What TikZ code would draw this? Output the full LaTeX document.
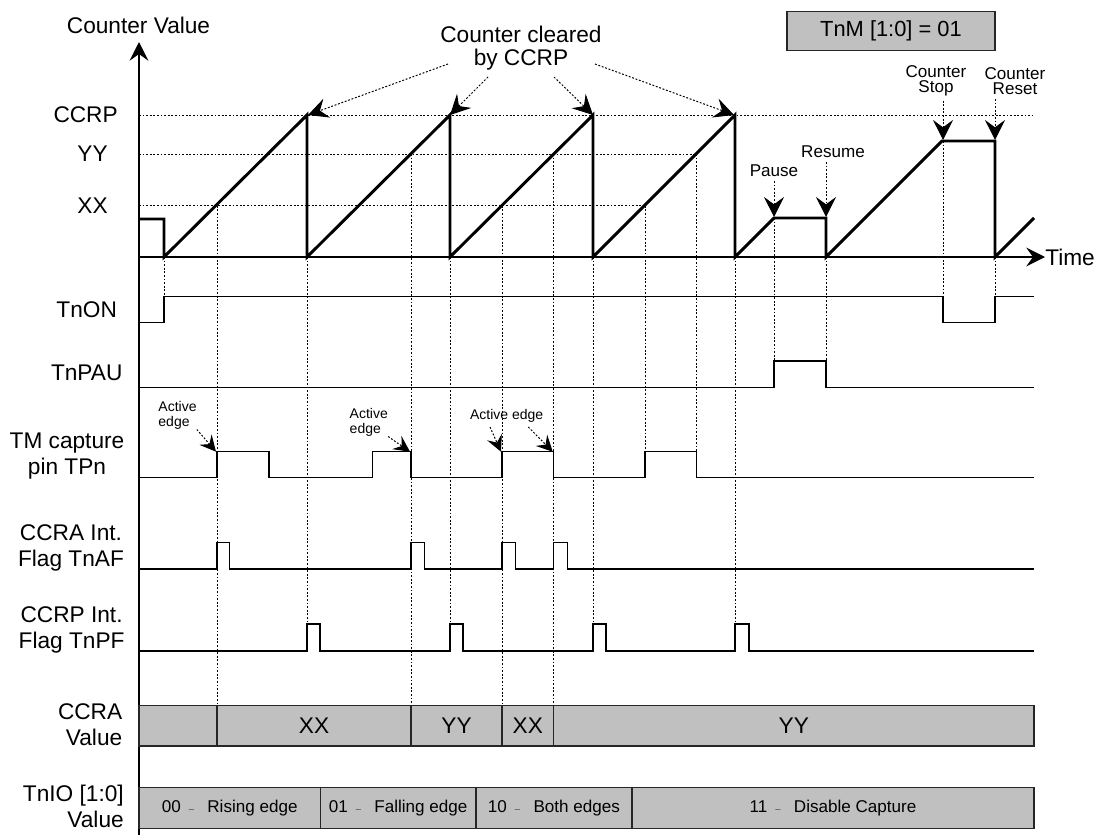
\documentclass[tikz,border=0pt]{standalone}
\usepackage{fontspec}
\setmainfont{Liberation Sans}
\usetikzlibrary{arrows.meta}

\definecolor{barfill}{RGB}{192,192,192}
\definecolor{bardraw}{RGB}{38,38,38}
\newcommand{\sepdash}{\hspace{6pt}{\color{darkgray}\scalebox{.55}{--}}\hspace{10pt}}

\begin{document}
\begin{tikzpicture}[x=.75pt,y=-.75pt,font=\fontsize{17}{19.5}\selectfont,
    trace/.style={line width=2.2pt,line join=miter},
    sig/.style={line width=1.1pt},
    axis/.style={line width=1.5pt,-{Stealth[length=14pt,width=14pt,inset=5pt]}},
    guide/.style={line width=.75pt,dash pattern=on 1.4pt off 1.3pt},
    note/.style={guide,-{Stealth[length=15pt,width=15pt,inset=5.5pt,sep=0pt]}},
    smallnote/.style={guide,-{Stealth[length=12pt,width=12pt,inset=4.5pt]}},
    lbl/.style={align=center,inner sep=0pt},
    small/.style={font=\fontsize{12.8}{11.5}\selectfont,align=center,inner sep=0pt},
    tiny/.style={font=\fontsize{10.5}{10.8}\selectfont,align=left,inner sep=0pt},
    bar/.style={fill=barfill,draw=bardraw,line width=1.1pt},
    bartext/.style={font=\fontsize{12.8}{14}\selectfont}]
  \useasboundingbox (0,0) rectangle (1099,835);

  % mode box
  \node[bar,minimum width=155.8pt,minimum height=29.2pt,
    font=\fontsize{16.4}{18}\selectfont] (mode) at (891,31.2) {TnM [1:0] = 01};

  % guide lines
  \draw[guide] (139,115) -- (1033,115);
  \draw[guide] (139,154) -- (697,154);
  \draw[guide] (139,205.7) -- (645,205.7);
  \foreach \x/\a/\b in {164/257/297, 217/205.7/705.6, 307/257/624,
      411/154/705.6, 450/257/624, 502/205.7/705.6, 553.7/154/705.6,
      593/257/624, 645/205.7/451.7, 696.7/154/451.7, 735/257/624,
      774/218/361, 826/257/361, 943/141/297, 995/257/297} {
    \draw[guide] (\x,\a) -- (\x,\b);
  }

  % axes
  \coordinate (ytop) at (139,42);
  \coordinate (ybot) at (139,835);
  \coordinate (o) at (139,257);
  \node[lbl] (cv) at (138.5,25) {Counter Value};
  \node[lbl,anchor=west] (time) at (1045,257) {Time};
  \draw[axis] (ybot) -- (ytop);
  \draw[axis,line width=2pt] (o) -- (time.west);

  \node[lbl,anchor=east] (lccrp) at (118,115) {CCRP};
  \node[lbl,anchor=east] (lyy) at (108,154) {YY};
  \node[lbl,anchor=east] (lxx) at (108,205.7) {XX};

  % counter value
  \draw[trace] (139,219) -- (164,219) -- (164,257) -- (307,115) -- (307,257)
    -- (450,115) -- (450,257) -- (593,115) -- (593,257) -- (735,115)
    -- (735,257) -- (774,218) -- (826,218) -- (826,257) -- (942,141)
    -- (995,141) -- (995,257) -- (1034,218);

  % counter cleared
  \node[lbl,font=\fontsize{17}{17}\selectfont] (clr) at (521,48) {Counter cleared\\by CCRP};
  \coordinate (c1) at (448,64);
  \coordinate (c2) at (488,77);
  \coordinate (c3) at (554,77);
  \coordinate (c4) at (595,64);
  \coordinate (pk1) at (308,115);
  \coordinate (pk2) at (450,115);
  \coordinate (pk3) at (593,115);
  \coordinate (pk4) at (734,115);
  \draw[note] (c1) -- (pk1);
  \draw[note] (c2) -- (pk2);
  \draw[note] (c3) -- (pk3);
  \draw[note] (c4) -- (pk4);

  % pause, resume, stop, reset
  \node[small] (pause) at (774,170.7) {Pause};
  \node[small] (resume) at (833,151.7) {Resume};
  \node[small] (stop) at (936,81) {Counter\\Stop};
  \node[small] (reset) at (1015,81) {Counter\\Reset};
  \coordinate (pa) at (774,217);
  \coordinate (rs) at (826,217);
  \coordinate (st) at (943,140);
  \coordinate (rt) at (995,140);
  \draw[note,shorten <=3pt] (pause.south) -- (pa);
  \draw[note,shorten <=3pt] (resume.south -| rs) -- (rs);
  \draw[note,shorten <=3pt] (stop.south -| st) -- (st);
  \draw[note,shorten <=3pt] (reset.south -| rt) -- (rt);

  % signal names
  \node[lbl] (non) at (86.7,309.3) {TnON};
  \node[lbl] (npau) at (86.7,373.3) {TnPAU};
  \node[lbl] (ntp) at (67,456) {TM capture\\pin TPn};
  \node[lbl] (naf) at (71,547.5) {CCRA Int.\\Flag TnAF};
  \node[lbl] (npf) at (71.6,629.5) {CCRP Int.\\Flag TnPF};
  \node[lbl,align=right,anchor=east] (nccra) at (122.5,724.5) {CCRA\\Value};
  \node[lbl,align=right,anchor=east] (nio) at (124,806.5) {TnIO [1:0]\\Value};

  % waveforms
  \draw[sig] (139,322.3) -| (164,296.7) -| (943,322.3) -| (995,296.7) -- (1034,296.7);
  \draw[sig] (139,387.3) -| (774,361) -| (826,387.3) -- (1034,387.3);
  \draw[sig] (139,477.7) -| (217,451.7) -| (269,477.7) -| (372.3,451.7)
    -| (411,477.7) -| (502,451.7) -| (553.7,477.7) -| (645,451.7)
    -| (696.3,477.7) -- (1034,477.7);
  \draw[sig] (139,569) -| (217,542.7) -| (229.3,569) -| (411,542.7)
    -| (424.3,569) -| (502,542.7) -| (515.3,569) -| (553.7,542.7)
    -| (567.7,569) -- (1034,569);
  \draw[sig] (139,651) -| (307,624) -| (320,651) -| (450,624) -| (463,651)
    -| (593,624) -| (606,651) -| (735,624) -| (749,651) -- (1034,651);

  % active edges
  \node[tiny] (ae1) at (177.5,415.5) {Active\\edge};
  \node[tiny] (ae2) at (368.8,422.5) {Active\\edge};
  \node[tiny] (ae3) at (506.7,415.7) {Active edge};
  \coordinate (r1) at (216,451.7);
  \coordinate (f1) at (410,451.7);
  \coordinate (r2) at (501,451.7);
  \coordinate (f2) at (552.7,451.7);
  \coordinate (a3l) at (490,427);
  \coordinate (a3r) at (528.3,427);
  \draw[smallnote] (ae1.south east) -- (r1);
  \draw[smallnote] (ae2.south east) -- (f1);
  \draw[smallnote] (a3l) -- (r2);
  \draw[smallnote] (a3r) -- (f2);

  % CCRA value
  \foreach \a/\b/\t [count=\i] in {139/217/{}, 217/411/XX, 411/502/YY,
      502/553.7/XX, 553.7/1034/YY} {
    \draw[bar] (\a,705.6) rectangle node (ccra\i) {\t} (\b,746);
  }

  % capture edge select
  \foreach \a/\b/\t [count=\i] in {139/320.4/{00\sepdash Rising edge},
      320.4/475.8/{01\sepdash Falling edge}, 475.8/632/{10\sepdash Both edges},
      632/1034/{11\sepdash Disable Capture}} {
    \draw[bar] (\a,787.4) rectangle node[bartext] (io\i) {\t} (\b,828.4);
  }
\end{tikzpicture}
\end{document}
